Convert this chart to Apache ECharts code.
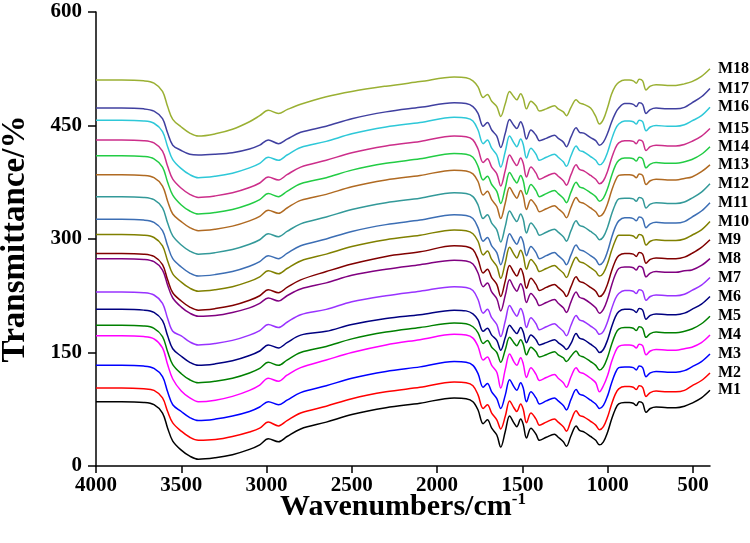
<!DOCTYPE html>
<html>
<head>
<meta charset="utf-8">
<script src="https://cdn.jsdelivr.net/npm/echarts@6/dist/echarts.min.js"></script>
<style>html,body{margin:0;padding:0;background:#fff}#c{width:750px;height:543px}</style>
</head>
<body>
<div id="c"></div>
<script>
const wavenumbers = [4000,3850,3720,3660,3610,3580,3550,3500,3450,3400,3300,3200,3100,3040,2990,2930,2880,2800,2650,2500,2300,2100,1900,1830,1790,1760,1730,1705,1680,1650,1627,1600,1575,1550,1533,1510,1495,1476,1450,1420,1400,1360,1312,1290,1260,1242,1215,1185,1165,1140,1100,1070,1048,1025,1000,978,955,935,900,873,850,832,815,795,775,750,716,650,600,550,506,450,400];
const xTicks = [4000,3500,3000,2500,2000,1500,1000,500];
const yTicks = [0,150,300,450,600];
const seriesNames = ['M1','M2','M3','M4','M5','M6','M7','M8','M9','M10','M11','M12','M13','M14','M15','M16','M17','M18'];
const seriesColors = ['#000000','#ff0000','#0000ff','#ff00ff','#008000','#000080','#9933ff','#800080','#800000','#808000','#3c6eb4','#339999','#b06a22','#22cc44','#cc2e8a','#2ec8d8','#4040a0','#9ab033'];

const M1 = [85,85,84,81,70,50,33, 21,13,9,11,15,22,28,36,32,39,49, 58,68,77,83,90,89,85, 74,56,61,50,41,25,46,66,57,52,62,55,37,50,42,34,38,42,38,32,26,40,53,47,45,39,34,28,32,45,61,75,82, 84,84,83,80,85,83,71,76,78,77,77,79, 83,90,100];
const M2 = [103,103,102,100,90,72,57, 46,38,34,35,39,45,50,58,53,60,70, 79,89,98,104,111,110,106, 94,76,81,70,61,49,66,86,77,72,82,75,57,70,62,54,58,62,58,52,46,60,73,67,65,59,54,48,52,65,81,95,102, 105,105,104,101,106,104,92,97,99,98,98,100, 106,113,123];
const M3 = [133,133,132,129,118,98,81, 72,64,60,62,66,72,78,85,81,87,97, 106,116,125,131,138,137,133, 122,104,109,98,89,76,94,114,105,100,110,103,85,98,90,82,86,90,86,80,74,88,101,95,93,87,82,76,80,93,109,123,130, 131,131,130,127,132,130,118,123,125,124,124,126, 131,138,148];
const M4 = [172,172,171,168,156,134,115, 99,90,85,87,92,100,107,116,112,120,130, 140,150,160,167,174,173,169, 158,140,144,133,124,103,128,148,138,133,143,135,117,130,121,113,117,121,116,110,104,118,130,124,122,116,110,98,106,120,137,151,158, 160,160,159,156,161,159,147,152,154,153,153,155, 157,163,173];
const M5 = [186,186,185,182,171,151,134, 122,114,110,112,116,123,129,137,133,140,150, 158,168,177,183,189,188,184, 176,162,166,157,150,137,154,170,163,159,167,161,147,157,151,144,147,151,147,143,138,145,152,146,144,138,133,127,131,144,160,174,181, 183,183,182,179,184,182,170,175,177,176,176,178, 181,188,198];
const M6 = [207,207,206,203,192,172,155, 145,137,133,135,139,146,152,160,156,163,173, 178,187,195,200,206,205,201, 193,178,182,173,166,153,170,186,179,175,183,177,163,173,167,160,163,167,163,158,154,162,175,169,167,161,156,150,154,167,183,197,204, 207,207,206,203,208,206,194,199,201,200,200,202, 207,214,224];
const M7 = [230,230,229,226,215,195,178, 172,164,160,162,166,173,179,187,183,190,200, 207,217,225,231,237,236,232, 220,202,207,196,187,171,192,212,203,198,208,201,183,196,188,180,184,188,184,178,172,186,199,193,191,185,180,174,178,191,207,221,228, 232,232,231,228,233,231,219,224,226,225,225,227, 232,239,249];
const M8 = [274,274,273,270,259,239,222, 210,202,198,199,203,209,215,222,218,225,234, 242,252,260,266,272,271,267, 255,237,242,230,221,205,226,246,236,231,241,234,216,228,220,212,216,220,215,209,203,217,230,223,221,215,209,202,207,221,238,253,261, 263,263,262,259,264,262,250,255,257,256,256,258, 259,265,274];
const M9 = [281,281,280,277,266,246,229, 218,210,206,208,212,219,225,233,229,236,246, 257,267,277,283,291,290,286, 273,255,260,249,240,224,245,265,256,251,261,253,235,248,240,232,236,240,236,230,224,237,250,244,242,236,231,224,228,241,257,271,278, 281,281,280,277,282,280,268,273,275,274,274,276, 281,289,299];
const M10 = [306,306,305,302,291,271,254, 243,235,231,233,237,244,250,258,254,261,271, 280,290,299,305,312,311,307, 297,279,284,273,264,248,269,289,280,275,285,278,260,273,265,257,261,265,261,255,249,263,276,270,268,262,257,251,255,268,284,298,305, 305,305,304,301,306,304,292,297,299,298,298,300, 305,312,323];
const M11 = [326,326,325,322,311,291,274, 263,255,251,253,257,264,270,278,274,281,291, 300,310,319,325,332,331,327, 315,297,302,291,282,266,287,307,298,293,303,296,278,290,282,274,278,282,278,272,266,279,292,286,284,278,273,266,270,284,301,316,324, 328,328,327,324,329,327,315,320,322,321,321,323, 329,337,348];
const M12 = [356,356,355,352,341,321,304, 292,284,280,282,286,293,299,307,303,310,320, 329,339,348,354,361,360,356, 345,327,332,321,312,296,317,337,328,323,333,326,308,321,313,305,309,313,309,303,297,311,324,318,316,310,305,299,303,316,332,346,353, 354,354,353,350,355,353,341,346,348,347,347,349, 354,362,373];
const M13 = [385,385,384,381,370,350,333, 323,315,311,313,317,324,330,338,334,341,351, 359,369,378,384,391,390,386, 376,358,363,352,343,327,348,368,359,354,364,357,339,352,344,336,340,344,340,334,328,342,355,349,347,341,336,330,334,347,363,377,384, 385,385,384,381,386,384,372,377,379,378,378,380, 382,389,398];
const M14 = [410,410,409,406,395,375,358, 345,337,333,335,339,346,352,360,356,363,373, 381,391,400,406,413,412,408, 396,378,383,372,363,347,368,388,379,374,384,377,359,372,364,356,360,364,360,354,348,362,375,369,367,361,356,350,354,367,383,397,404, 407,407,406,403,408,406,394,399,401,400,400,402, 405,412,422];
const M15 = [431,431,430,427,416,396,379, 367,359,355,357,361,368,374,382,378,385,395, 404,414,423,429,436,435,431, 419,401,406,395,386,370,391,411,402,397,407,400,382,395,387,379,383,387,383,377,371,385,398,392,390,384,379,373,377,390,406,420,427, 430,430,429,426,431,429,417,422,424,423,423,425, 429,436,446];
const M16 = [457,457,456,453,442,422,405, 393,385,381,383,387,394,400,408,404,411,421, 429,439,448,454,461,460,456, 444,426,431,420,411,395,416,436,427,422,432,425,407,420,412,404,408,412,408,402,396,410,423,417,415,409,404,398,402,415,431,445,452, 456,456,455,452,457,455,443,448,450,449,449,451, 456,463,474];
const M17 = [473,473,472,469,459,440,424, 417,412,411,412,414,419,424,431,426,432,441, 449,459,468,474,480,479,475, 466,449,454,444,436,421,440,458,450,446,455,448,432,444,437,430,433,437,433,428,422,435,447,441,440,434,430,424,428,440,454,466,473, 479,479,478,475,480,478,466,471,473,472,472,474, 480,488,499];
const M18 = [510,510,509,506,495,475,458, 448,440,436,439,445,455,463,470,466,471,478, 488,495,502,508,514,513,509, 501,487,491,482,475,462,479,495,488,484,492,486,472,482,476,469,472,476,472,468,463,474,484,480,478,473,462,452,458,474,491,502,507, 510,510,509,506,511,509,497,502,504,503,503,505, 508,515,525];

const allValues = [M1,M2,M3,M4,M5,M6,M7,M8,M9,M10,M11,M12,M13,M14,M15,M16,M17,M18];

const FONT = 'Liberation Serif, Times New Roman, serif';
const chart = echarts.init(document.getElementById('c'), null, {renderer: 'canvas'});
const series = allValues.map((vals, i) => ({
  name: seriesNames[i],
  type: 'line',
  data: wavenumbers.map((w, j) => [w, vals[j]]),
  showSymbol: false,
  smooth: 0.35,
  lineStyle: {width: 1.5, color: seriesColors[i]},
  itemStyle: {color: seriesColors[i]},
  endLabel: {show: true, formatter: '{a}', color: '#000', fontFamily: FONT, fontWeight: 'bold', fontSize: 16, align: 'left', distance: 0, offset: [8, 0]},
  z: 2
}));

chart.setOption({
  animation: false,
  backgroundColor: '#fff',
  grid: {left: 96, right: 40, top: 12, bottom: 77, containLabel: false, outerBoundsMode: 'none'},
  xAxis: {
    type: 'value', inverse: true, min: 400, max: 4000,
    name: '{a|Wavenumbers/cm}{b|-1}', nameLocation: 'middle', nameGap: 25, nameMoveOverlap: false,
    nameTextStyle: {rich: {
      a: {fontFamily: FONT, fontWeight: 'bold', fontSize: 30, color: '#000'},
      b: {fontFamily: FONT, fontWeight: 'bold', fontSize: 17, color: '#000', verticalAlign: 'top', padding: [0,0,16,0]}
    }},
    axisLine: {lineStyle: {color: '#000', width: 1.5}},
    axisTick: {show: true, length: 7, lineStyle: {color: '#000', width: 1.5}, customValues: xTicks},
    axisLabel: {customValues: xTicks, formatter: v => String(v), color: '#000', fontFamily: FONT, fontWeight: 'bold', fontSize: 21, margin: 9},
    splitLine: {show: false}
  },
  yAxis: {
    type: 'value', min: 0, max: 600, interval: 150,
    name: 'Transmittance/%', nameLocation: 'middle', nameGap: 64, nameMoveOverlap: false,
    nameTextStyle: {fontFamily: FONT, fontWeight: 'bold', fontSize: 33, color: '#000'},
    axisLine: {show: true, lineStyle: {color: '#000', width: 1.5}},
    axisTick: {show: true, length: 8, lineStyle: {color: '#000', width: 1.5}},
    axisLabel: {formatter: v => String(v), color: '#000', fontFamily: FONT, fontWeight: 'bold', fontSize: 21, margin: 14},
    splitLine: {show: false}
  },
  series: series
});
</script>
</body>
</html>
